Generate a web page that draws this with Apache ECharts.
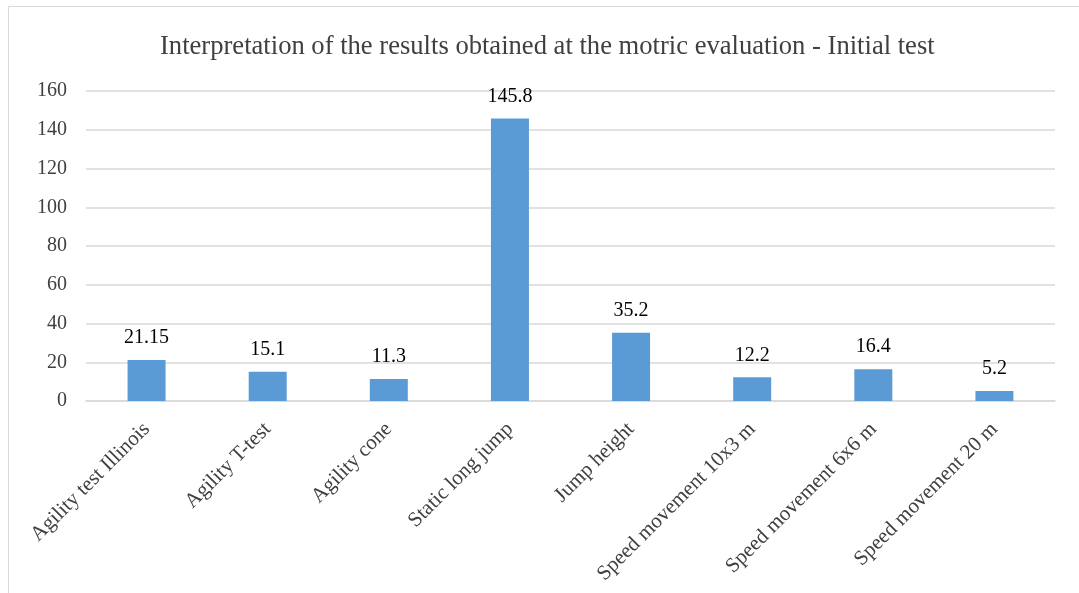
<!DOCTYPE html>
<html>
<head>
<meta charset="utf-8">
<script src="https://cdn.jsdelivr.net/npm/echarts@6/dist/echarts.min.js"></script>
<style>
  html, body { margin: 0; padding: 0; background: #fff; }
  #chart { width: 1079px; height: 593px; }
</style>
</head>
<body>
<div id="chart"></div>
<script>
// Motric evaluation, initial test
const categories = [
  'Agility test Illinois',
  'Agility T-test',
  'Agility cone',
  'Static long jump',
  'Jump height',
  'Speed movement 10x3 m',
  'Speed movement 6x6 m',
  'Speed movement 20 m'
];
const values = [21.15, 15.1, 11.3, 145.8, 35.2, 12.2, 16.4, 5.2];
const titleText = 'Interpretation of the results obtained at the motric evaluation - Initial test';

const serif = '"Liberation Serif", "DejaVu Serif", serif';
const chart = echarts.init(document.getElementById('chart'));

chart.setOption({
  backgroundColor: '#fff',
  animation: false,
  graphic: [{
    type: 'rect',
    shape: { x: 8.5, y: 6.5, width: 1200, height: 700 },
    style: { fill: 'none', stroke: '#d9d9d9', lineWidth: 1 },
    silent: true
  }],
  title: {
    text: titleText,
    left: 155,
    top: 29,
    textStyle: { fontFamily: serif, fontSize: 26.6, fontWeight: 'normal', color: '#404040' }
  },
  grid: { left: 86, right: 24, top: 91, bottom: 192, containLabel: false },
  xAxis: {
    type: 'category',
    data: categories,
    axisLine: { lineStyle: { color: '#d9d9d9', width: 1.5 } },
    axisTick: { show: false },
    axisLabel: {
      rotate: 45,
      interval: 0,
      margin: 25,
      fontFamily: serif,
      fontSize: 21,
      color: '#404040'
    }
  },
  yAxis: {
    type: 'value',
    min: 0,
    max: 160,
    interval: 20,
    axisLine: { show: false },
    axisTick: { show: false },
    splitLine: { lineStyle: { color: '#d9d9d9', width: 1.5 } },
    axisLabel: { margin: 19, fontFamily: serif, fontSize: 20, color: '#404040' }
  },
  series: [{
    type: 'bar',
    data: values,
    barWidth: 38,
    itemStyle: { color: '#5b9bd5' },
    label: {
      show: true,
      position: 'top',
      distance: 12,
      fontFamily: serif,
      fontSize: 20,
      color: '#000',
      formatter: p => String(p.value)
    }
  }]
});
</script>
</body>
</html>
